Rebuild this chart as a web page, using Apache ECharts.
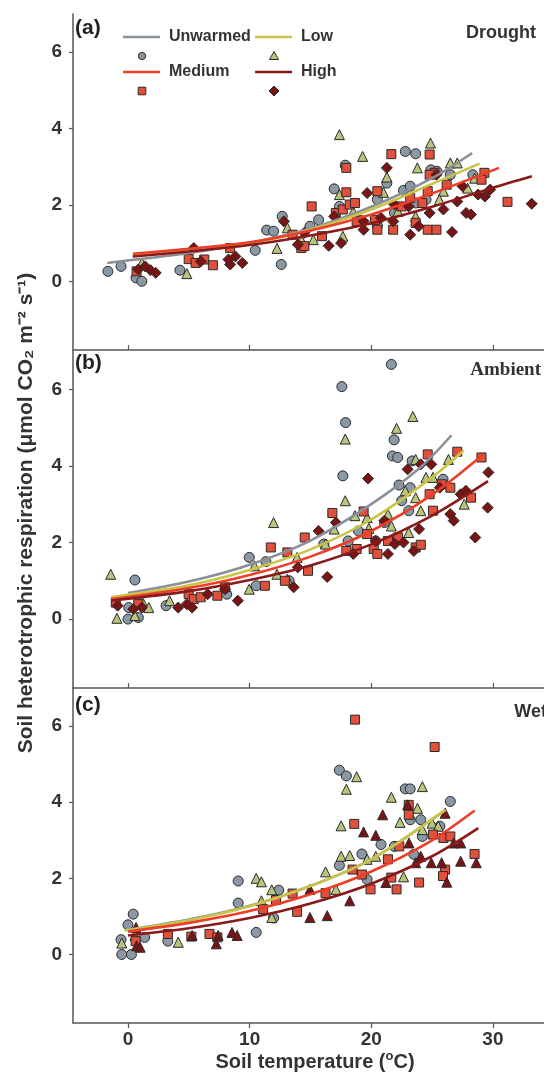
<!DOCTYPE html>
<html>
<head>
<meta charset="utf-8">
<script src="https://cdn.jsdelivr.net/npm/echarts@6/dist/echarts.min.js"></script>
<style>
  html, body { margin: 0; padding: 0; background: #fff; }
  #main { width: 544px; height: 1076px; }
</style>
</head>
<body>
<div id="main"></div>
<script>
  // treatment names and colours
  var groups = ['Unwarmed', 'Low', 'Medium', 'High'];
  var panelTags = ['(a)', '(b)', '(c)'];
  var panelNames = ['Drought', 'Ambient', 'Wet'];
  var xTicks = [0, 10, 20, 30];
  var yTicks = [0, 2, 4, 6];

  // ---- (a) Drought : measured points [soil T, Rh]
  var aUnwarmed = [[-1.65,0.26],[-0.57,0.39],[0.66,0.09],[1.14,0.0],[4.27,0.29],[10.46,0.81],[11.4,1.34],[11.97,1.31],[12.6,0.44],[12.68,1.7],[14.96,1.44],[15.67,1.61],[16.95,2.42],[17.86,3.04],[17.38,1.96],[20.5,2.14],[21.28,2.57],[20.5,1.44],[21.9,1.79],[22.65,2.38],[22.8,3.4],[23.65,3.34],[23.2,2.49],[24.9,2.92],[25.4,2.88],[26.5,2.79],[28.35,2.79],[23.65,2.05],[19.1,1.6],[24.5,2.14]];
  var aLow = [[17.38,3.84],[19.29,3.27],[24.87,3.62],[23.79,2.97],[26.5,3.1],[27.07,3.1],[21.28,2.73],[21.0,2.33],[25.93,2.36],[27.92,2.44],[4.84,0.2],[12.25,0.86],[13.1,1.4],[14.25,1.09],[15.24,1.09],[17.66,1.18],[17.38,2.27],[18.52,1.83],[22.2,1.83],[23.65,1.7],[25.6,2.14],[28.5,2.7],[1.14,0.48]];
  var aMedium = [[0.71,0.26],[4.99,0.58],[5.56,0.48],[6.27,0.57],[6.98,0.42],[8.4,0.87],[13.53,1.22],[14.25,0.87],[14.5,0.92],[15.1,1.96],[15.95,1.18],[17.95,2.97],[17.95,2.33],[17.09,1.79],[17.66,1.88],[18.23,2.01],[18.66,2.05],[18.8,1.57],[20.5,2.36],[20.3,1.61],[20.5,1.35],[21.65,3.33],[21.8,1.35],[22.5,1.96],[23.2,2.18],[23.65,1.53],[24.64,2.36],[24.8,3.32],[24.2,2.05],[24.64,1.35],[25.36,1.35],[25.2,2.84],[26.2,2.53],[29.3,2.84],[29.06,2.66],[31.2,2.08],[24.8,2.79]];
  var aHigh = [[0.85,0.31],[1.42,0.39],[1.85,0.29],[2.28,0.22],[5.41,0.87],[5.98,0.52],[8.4,0.44],[8.83,0.65],[9.4,0.48],[8.26,0.57],[12.82,1.57],[13.96,0.96],[14.5,1.27],[16.5,0.93],[17.52,1.0],[16.95,1.7],[19.37,1.57],[19.66,2.31],[21.28,2.97],[20.8,1.66],[21.8,1.57],[23.08,1.96],[23.2,1.22],[23.9,1.44],[24.8,1.79],[25.36,2.79],[25.93,1.88],[26.64,1.29],[27.07,2.09],[27.5,2.49],[27.8,1.79],[28.2,1.75],[28.78,2.27],[29.34,2.22],[29.77,2.4],[33.19,2.03],[19.37,1.35],[21.9,2.01]];
  // (a) fitted curves
  var aUnwarmedFit = [[-1.7,0.48],[5,0.74],[10,1.0],[15,1.38],[20,1.95],[25,2.7],[28.3,3.36]];
  var aLowFit = [[0.4,0.66],[5,0.8],[10,1.0],[15,1.35],[20,1.88],[25,2.55],[28.9,3.08]];
  var aMediumFit = [[0.4,0.72],[5,0.85],[10,1.02],[15,1.33],[20,1.75],[25,2.3],[30.5,2.97]];
  var aHighFit = [[0.4,0.65],[5,0.78],[10,0.95],[15,1.2],[20,1.52],[25,1.95],[30,2.45],[33.2,2.75]];

  // ---- (b) Ambient
  var bUnwarmed = [[0.57,1.02],[0.06,0.3],[0.85,0.04],[0,0],[3.13,0.35],[8.12,0.65],[9.97,1.61],[10.54,0.87],[11.34,1.5],[13.25,1.0],[16.1,1.96],[17.58,6.07],[17.89,5.13],[17.66,3.74],[18.1,2.04],[18.95,2.3],[21.65,6.65],[21.88,4.68],[21.74,4.26],[22.17,4.22],[22.28,3.5],[23.2,3.43],[23.08,2.83],[25.9,3.65],[20.37,2.04],[21.08,2.52],[22.5,3.09],[23.36,4.13]];
  var bLow = [[-1.42,1.17],[-0.91,0.02],[0.57,0.09],[1.14,0.48],[1.71,0.3],[3.42,0.48],[9.97,0.78],[10.4,1.39],[11.97,2.52],[12.25,1.17],[13.1,1.04],[13.9,1.61],[16.24,1.96],[16.95,2.35],[17.86,4.7],[17.86,3.09],[18.66,2.7],[19.66,2.65],[22.08,4.98],[23.42,5.29],[21.37,2.74],[21.65,2.43],[22.8,3.35],[23.65,4.17],[23.65,3.17],[24.07,2.83],[24.5,3.7],[25.07,3.7],[26.35,4.17],[27.64,3.0],[23.08,2.26],[19.8,2.37]];
  var bMedium = [[-1.0,0.43],[0.85,0.39],[4.99,0.65],[5.41,0.52],[5.98,0.57],[7.35,0.61],[7.98,0.83],[11.25,0.87],[11.74,1.87],[13.1,1.74],[12.9,1.0],[14.53,2.13],[14.8,1.26],[16.8,2.77],[19.37,2.81],[17.95,1.78],[18.8,1.83],[20.2,1.83],[20.5,1.7],[21.37,2.04],[22.2,2.13],[23.65,1.87],[24.07,1.94],[24.64,4.3],[24.8,3.26],[25.07,2.83],[25.8,3.52],[27.07,4.37],[29.06,4.22],[28.2,3.17],[26.5,3.43],[19.66,2.22]];
  var bHigh = [[-0.85,0.35],[0.43,0.26],[1.14,0.3],[4.13,0.3],[4.84,0.39],[5.27,0.3],[6.55,0.65],[7.98,0.78],[9.03,0.48],[13.62,0.83],[13.96,1.35],[16.38,1.1],[15.67,2.3],[17.09,2.52],[19.74,3.67],[18.52,1.7],[20.37,2.04],[21.37,1.7],[21.08,2.57],[21.94,1.96],[22.65,2.0],[22.99,3.91],[24.07,4.04],[24.93,4.04],[23.5,1.78],[23.93,2.35],[25.64,3.43],[26.5,2.74],[26.78,2.57],[27.35,3.26],[27.78,3.35],[28.55,2.13],[29.63,3.83],[29.57,2.91]];
  var bUnwarmedFit = [[0,0.68],[5,0.98],[10,1.42],[15,2.05],[20,3.0],[24,3.95],[26.6,4.8]];
  var bLowFit = [[-1.4,0.57],[5,0.88],[10,1.28],[15,1.82],[20,2.6],[25,3.7],[27.6,4.4]];
  var bMediumFit = [[-1.4,0.52],[5,0.81],[10,1.15],[15,1.63],[20,2.3],[25,3.25],[29.2,4.3]];
  var bHighFit = [[-1.4,0.48],[5,0.73],[10,1.02],[15,1.4],[20,1.95],[25,2.7],[29.6,3.6]];

  // ---- (c) Wet
  var cUnwarmed = [[-0.57,0.39],[-0.51,0.0],[0.28,0.0],[0,0.78],[0.43,1.06],[1.37,0.45],[3.28,0.35],[9.06,1.93],[9.06,1.35],[10.54,0.58],[11.97,0.96],[12.39,1.69],[17.38,4.84],[17.95,4.69],[17.38,2.34],[19.23,2.64],[20.8,2.89],[22.8,4.35],[23.2,4.35],[23.2,3.54],[24.07,3.54],[26.5,4.02],[25.64,3.37],[23.5,2.63],[24.2,3.1],[19.66,1.97],[21.9,2.84]];
  var cLow = [[-0.51,0.3],[0.57,0.5],[4.13,0.32],[10.54,2.0],[10.97,1.91],[11.82,1.7],[10.97,1.41],[11.82,0.97],[16.24,2.17],[17.52,3.38],[17.95,4.34],[18.8,4.67],[17.52,2.58],[18.23,2.6],[20.37,2.58],[21.65,4.13],[22.36,3.47],[23.8,3.84],[24.2,4.41],[22.65,2.04],[24.2,3.28],[25.0,3.45],[25.5,3.37],[19.66,2.5],[17.1,1.71]];
  var cMedium = [[0.63,0.35],[3.28,0.54],[5.21,0.47],[6.7,0.54],[7.35,0.45],[11.11,1.19],[12.17,1.43],[13.53,1.6],[13.9,1.12],[16.24,1.61],[18.6,3.43],[18.66,6.17],[18.46,2.23],[19.23,2.1],[19.94,1.71],[21.37,2.5],[21.65,2.02],[22.08,1.71],[23.08,3.93],[23.08,3.67],[23.93,1.89],[25.21,5.45],[25.07,3.15],[25.93,3.06],[26.07,2.23],[25.9,2.06],[26.5,3.1],[28.49,2.64],[22.3,2.84]];
  var cHigh = [[0.66,0.71],[0.71,0.23],[1.0,0.19],[5.27,0.5],[7.26,0.28],[7.41,0.5],[8.55,0.58],[8.97,0.5],[14.96,1.71],[14.96,0.97],[16.38,1.02],[18.23,1.41],[19.37,3.22],[20.37,3.13],[20.94,3.67],[21.2,1.89],[22.99,3.93],[23.65,2.41],[24.07,2.58],[24.93,2.41],[25.78,2.41],[26.21,1.9],[26.07,3.71],[26.78,2.93],[27.35,2.93],[27.35,2.45],[28.63,2.41],[23.1,2.93]];
  var cUnwarmedFit = [[0,0.65],[5,0.92],[10,1.28],[15,1.8],[20,2.5],[26.1,3.8]];
  var cLowFit = [[-0.3,0.63],[5,0.9],[10,1.27],[15,1.8],[20,2.5],[26.1,3.8]];
  var cMediumFit = [[0,0.6],[5,0.83],[10,1.14],[15,1.58],[20,2.18],[25,3.0],[28.5,3.78]];
  var cHighFit = [[0,0.5],[5,0.69],[10,0.96],[15,1.34],[20,1.86],[25,2.58],[28.8,3.32]];

  var points = [[aUnwarmed, aLow, aMedium, aHigh], [bUnwarmed, bLow, bMedium, bHigh], [cUnwarmed, cLow, cMedium, cHigh]];
  var fits = [[aUnwarmedFit, aLowFit, aMediumFit, aHighFit], [bUnwarmedFit, bLowFit, bMediumFit, bHighFit], [cUnwarmedFit, cLowFit, cMediumFit, cHighFit]];

  var lineColors = ['#8a9098', '#c9c446', '#ee3d28', '#8a1a1a'];
  var fillColors = ['#8b99a6', '#b9c47c', '#e2503c', '#7a1414'];
  // high is a diamond in (a),(b) and a triangle in (c)
  var symbols = [['circle', 'triangle', 'rect', 'diamond'], ['circle', 'triangle', 'rect', 'diamond'], ['circle', 'triangle', 'rect', 'triangle']];
  var sizes = { circle: 10, triangle: 10, rect: 9, diamond: 11 };

  var myChart = echarts.init(document.getElementById('main'));

  var gridPos = [{ top: 14, height: 336 }, { top: 351, height: 337 }, { top: 688, height: 335 }];
  var grids = [], xAxes = [], yAxes = [], series = [];
  var axisCol = '#555';
  var font = 'Liberation Sans, Arial';

  gridPos.forEach(function(g, i) {
    var last = i == 2;
    grids.push({ left: 73, right: 0, top: g.top, height: g.height });
    xAxes.push({
      type: 'value', gridIndex: i, min: -4.52, max: 34.2, position: 'bottom',
      axisLine: { show: true, onZero: false, lineStyle: { color: axisCol, width: 1.5 } },
      axisTick: { show: true, inside: !last, length: 5, customValues: xTicks, lineStyle: { color: axisCol, width: 1.2 } },
      axisLabel: { show: last, customValues: xTicks, color: '#333', fontSize: 19, fontWeight: 'bold', fontFamily: font, margin: 7 },
      splitLine: { show: false }
    });
    yAxes.push({
      type: 'value', gridIndex: i, min: -1.8, max: 7, position: 'left',
      axisLine: { show: true, onZero: false, lineStyle: { color: axisCol, width: 1.5 } },
      axisTick: { show: true, length: 4, customValues: yTicks, lineStyle: { color: axisCol, width: 1.2 } },
      axisLabel: { customValues: yTicks, color: '#333', fontSize: 19, fontWeight: 'bold', fontFamily: font, margin: 11 },
      splitLine: { show: false }
    });

    groups.forEach(function(name, k) {
      var sym = symbols[i][k];
      series.push({
        name: name, type: 'scatter', xAxisIndex: i, yAxisIndex: i,
        symbol: sym, symbolSize: sizes[sym],
        itemStyle: { color: fillColors[k], borderColor: '#2a2a2a', borderWidth: 1, opacity: 1 },
        data: points[i][k], z: 2
      });
    });
    groups.forEach(function(name, k) {
      series.push({
        name: name, type: 'line', xAxisIndex: i, yAxisIndex: i,
        smooth: 0.3, showSymbol: false, silent: true,
        lineStyle: { color: lineColors[k], width: 2.6 },
        data: fits[i][k], z: 3
      });
    });
  });

  var txt = function(x, y, text, size, extra) {
    var st = { text: text, fontSize: size, fontWeight: 'bold', fontFamily: font, fill: '#333', verticalAlign: 'middle', align: 'left' };
    for (var k in extra) st[k] = extra[k];
    return { type: 'text', x: x, y: y, style: st, z: 10 };
  };

  var graphic = [];
  // panel tags and condition names
  var tagY = [28, 363, 705];
  var nameY = [33, 370, 712];
  panelTags.forEach(function(t, i) {
    graphic.push(txt(75, tagY[i], t, 21, { fill: '#222' }));
    var nm = txt(536, nameY[i], panelNames[i], 18, { align: 'right' });
    if (i == 1) { nm.style.fontFamily = 'Liberation Serif, Times New Roman'; nm.style.fontSize = 19; nm.x = 541; }
    if (i == 2) { nm.x = 547; }
    graphic.push(nm);
  });

  // legend (lines with a marker under each)
  var legRows = [[0, 1], [2, 3]];
  var legY = [37, 72];
  var legX = [123, 255];
  legRows.forEach(function(row, r) {
    row.forEach(function(k, c) {
      var lx = legX[c], ly = legY[r];
      graphic.push({ type: 'line', shape: { x1: lx, y1: ly, x2: lx + 37, y2: ly }, style: { stroke: lineColors[k], lineWidth: 2.6 }, z: 10 });
      graphic.push(txt(lx + 46, ly, groups[k], 16));
      var mx = lx + 19, my = ly + 19;
      var mk;
      if (k == 0) mk = { type: 'circle', shape: { cx: mx, cy: my, r: 3.6 } };
      if (k == 1) mk = { type: 'polygon', shape: { points: [[mx, my - 4.5], [mx + 4.5, my + 3.5], [mx - 4.5, my + 3.5]] } };
      if (k == 2) mk = { type: 'rect', shape: { x: mx - 3.8, y: my - 3.8, width: 7.6, height: 7.6 } };
      if (k == 3) mk = { type: 'polygon', shape: { points: [[mx, my - 5], [mx + 5, my], [mx, my + 5], [mx - 5, my]] } };
      mk.style = { fill: fillColors[k], stroke: '#2a2a2a', lineWidth: 1 };
      mk.z = 10;
      graphic.push(mk);
    });
  });

  // axis titles
  graphic.push({
    type: 'text', x: 26, y: 513, rotation: Math.PI / 2, z: 10,
    style: { text: 'Soil heterotrophic respiration (\u03bcmol CO\u2082 m\u207b\u00b2 s\u207b\u00b9)', fontSize: 21, fontWeight: 'bold', fontFamily: font, fill: '#333', align: 'center', verticalAlign: 'middle' }
  });
  graphic.push({
    type: 'text', x: 315, y: 1062, z: 10,
    style: {
      text: '{t|Soil temperature (}{s|o}{t|C)}', align: 'center', verticalAlign: 'middle',
      rich: {
        t: { fontSize: 20, fontWeight: 'bold', fontFamily: font, fill: '#333', lineHeight: 24 },
        s: { fontSize: 13, fontWeight: 'bold', fontFamily: font, fill: '#333', lineHeight: 24, verticalAlign: 'top' }
      }
    }
  });

  var option = {
    animation: false,
    backgroundColor: '#fff',
    grid: grids,
    xAxis: xAxes,
    yAxis: yAxes,
    series: series,
    graphic: graphic
  };
  myChart.setOption(option);
</script>
</body>
</html>
